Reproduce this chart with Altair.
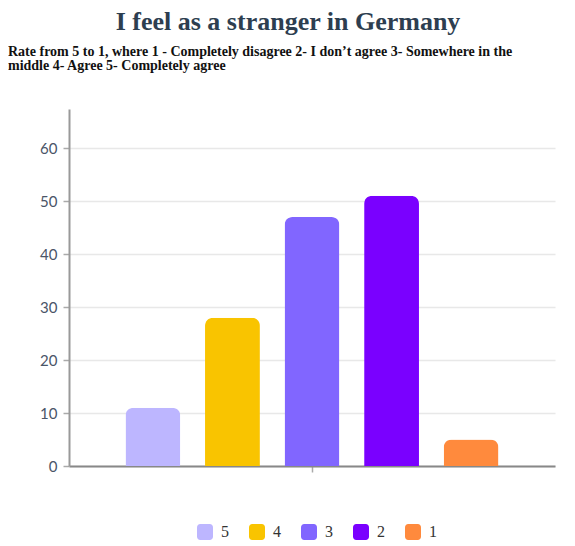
import altair as alt
import pandas as pd

# ---- data ----
ratings = ["5", "4", "3", "2", "1"]
counts = [11, 28, 47, 51, 5]
colors = ["#BDB6FF", "#F9C400", "#8166FF", "#7A00FF", "#FF8A3D"]
y_ticks = [0, 10, 20, 30, 40, 50, 60]

title_text = "I feel as a stranger in Germany"
subtitle_lines = [
    "Rate from 5 to 1, where 1 - Completely disagree 2- I don\u2019t agree 3- Somewhere in the",
    "middle 4- Agree 5- Completely agree",
]

df = pd.DataFrame({"group": ["all"] * len(ratings), "rating": ratings, "count": counts})

rounded_square = (
    "M-0.6,-1 H0.6 A0.4,0.4 0 0 1 1,-0.6 V0.6 A0.4,0.4 0 0 1 0.6,1 "
    "H-0.6 A0.4,0.4 0 0 1 -1,0.6 V-0.6 A0.4,0.4 0 0 1 -0.6,-1 Z"
)

bars = alt.Chart(df).mark_bar(
    cornerRadiusTopLeft=8, cornerRadiusTopRight=8
).encode(
    x=alt.X(
        "group:N",
        title=None,
        scale=alt.Scale(paddingInner=0, paddingOuter=0.111),
        axis=alt.Axis(
            labels=False, grid=False, domainColor="#888888", domainWidth=2,
            tickColor="#aaaaaa", tickSize=6, tickWidth=1.5,
        ),
    ),
    xOffset=alt.XOffset(
        "rating:N", sort=ratings,
        scale=alt.Scale(paddingInner=0.31, paddingOuter=0.155),
    ),
    y=alt.Y(
        "count:Q",
        title=None,
        scale=alt.Scale(domain=[0, 67.4], nice=False),
        axis=alt.Axis(
            values=y_ticks, domainColor="#999999", domainWidth=2,
            tickColor="#aaaaaa", tickSize=6, tickWidth=1.5,
            gridColor="#e8e8e8", gridWidth=1.5,
            labelFont="Lato", labelFontSize=15, labelColor="#4A5568",
            labelPadding=6,
        ),
    ),
    color=alt.Color(
        "rating:N",
        sort=ratings,
        scale=alt.Scale(domain=ratings, range=colors),
        legend=alt.Legend(
            title=None, orient="none", direction="horizontal",
            legendX=128, legendY=415,
            symbolType=rounded_square, symbolSize=256, symbolStrokeWidth=0,
            labelFont="Liberation Serif", labelFontSize=16, labelColor="#333333",
            labelOffset=8, columnPadding=20,
        ),
    ),
)

title_layer = alt.Chart(pd.DataFrame({"t": [title_text]})).mark_text(
    font="Liberation Serif", fontWeight="bold", fontSize=26, color="#2D3E50",
    align="center", baseline="alphabetic",
).encode(x=alt.value(219), y=alt.value(-79), text="t:N")

sub_layer = alt.Chart(pd.DataFrame({"t": [subtitle_lines]})).mark_text(
    font="Liberation Serif", fontWeight="bold", fontSize=14, color="#111111",
    align="left", baseline="alphabetic", lineHeight=13.5,
).encode(x=alt.value(-61), y=alt.value(-53), text="t")

chart = alt.layer(bars, title_layer, sub_layer).properties(
    width=486, height=357,
    autosize=alt.AutoSizeParams(type="none"),
    padding={"left": 61, "top": 101, "right": 12, "bottom": 78},
).configure_view(stroke=None)

chart.save("out.html", embed_options={"renderer": "svg", "actions": False})
